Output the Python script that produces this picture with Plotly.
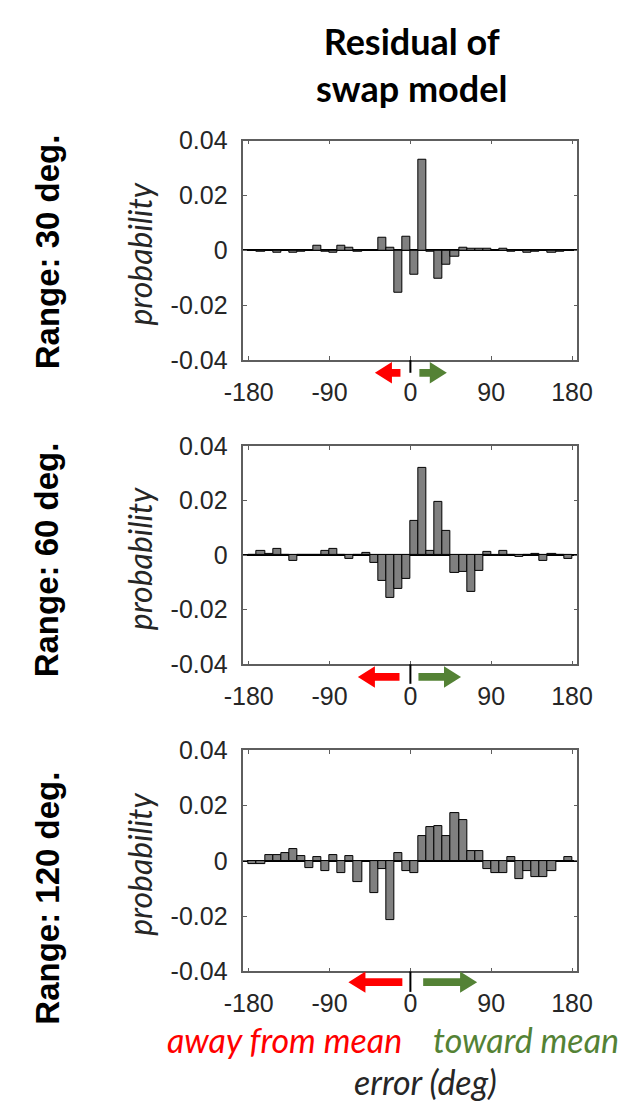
import plotly.graph_objects as go

# ---------------- data ----------------
bin_centers = [-175.5 + 9 * i for i in range(40)]  # 9-deg bins from -180 to 180
bin_width = 9

resid_30 = [0, -0.0005, 0, -0.001, 0, -0.0008, -0.0003, 0, 0.0018, -0.0003,
            -0.0008, 0.0017, 0.0008, -0.0005, 0, 0, 0.0046, 0.0009, -0.0156, 0.005,
            -0.0087, 0.0332, -0.0005, -0.0104, -0.0052, -0.0024, 0.0011, 0.0006, 0.0006, 0.0007,
            0, 0.0006, -0.0005, -0.0002, -0.001, -0.0005, 0, -0.001, -0.0005, 0]

resid_60 = [0, 0.0015, 0.0004, 0.0022, 0, -0.002, 0, 0, 0, 0.0015,
            0.0021, 0, -0.0014, 0, 0.0007, -0.003, -0.0095, -0.0157, -0.0122, -0.0086,
            0.0124, 0.0319, 0.0017, 0.0194, 0.009, -0.0067, -0.0063, -0.0136, -0.0059, 0.001,
            -0.0004, 0.0017, 0, -0.0008, 0, 0.0004, -0.002, 0.0004, 0, -0.0013]

resid_120 = [-0.0011, -0.0011, 0.002, 0.002, 0.0028, 0.0041, 0.0018, -0.0027, 0.0014, -0.0039,
             0.0019, -0.0044, 0.0016, -0.0077, -0.0003, -0.0117, -0.0031, -0.0215, 0.0026, -0.0038,
             -0.0045, 0.0088, 0.0121, 0.0127, 0.009, 0.0174, 0.0146, 0.0035, 0.0036, -0.003,
             -0.0043, -0.0043, 0.0012, -0.0066, -0.0037, -0.006, -0.006, -0.0036, 0, 0.0014]

series = [resid_30, resid_60, resid_120]
row_labels = ["Range: 30 deg.", "Range: 60 deg.", "Range: 120 deg."]
x_tick_vals = [-180, -90, 0, 90, 180]
x_tick_text = ["-180", "-90", "0", "90", "180"]
y_tick_vals = [-0.04, -0.02, 0, 0.02, 0.04]
y_tick_text = ["-0.04", "-0.02", "0", "0.02", "0.04"]
title_text = "Residual of<br>swap model"
y_title = "probability"
x_title = "error (deg)"
away_text = "away from mean"
toward_text = "toward mean"

# ---------------- layout helpers ----------------
W, H = 636, 1118
def px(x):
    return x / W
def py(y):
    return 1 - y / H

x_dom = [px(237), px(590)]
panel_px = [(130, 355), (443, 667), (755, 982)]  # top, bottom in pixels
label_centers = [244, 560, 907]
arrows = [  # red tip, red tail, green tail, green tip, y-centre, zero tick length
    (376, 403, 423, 452, 368, 13),
    (358, 402, 422, 467, 680, 20),
    (348, 405, 427, 484, 993, 21),
]

AX_COLOR = "#5e5e5e"
TXT = "#262626"
RED = "#ff0000"
GREEN = "#548235"

fig = go.Figure()
layout = dict(
    width=W, height=H, margin=dict(l=0, r=0, t=0, b=0),
    paper_bgcolor="white", plot_bgcolor="white",
    showlegend=False, bargap=0,
)

annotations = []
shapes = []

for i, vals in enumerate(series):
    n = "" if i == 0 else str(i + 1)
    fig.add_trace(go.Bar(
        x=bin_centers, y=vals, width=bin_width,
        marker=dict(color="#808080", line=dict(color="black", width=1)),
        xaxis="x" + n, yaxis="y" + n, hoverinfo="skip",
    ))
    top, bot = panel_px[i]
    layout["xaxis" + n] = dict(
        domain=x_dom, anchor="y" + n, range=[-186, 186],
        tickvals=x_tick_vals, ticktext=x_tick_text,
        ticks="inside", ticklen=4, tickcolor=AX_COLOR, tickwidth=1,
        showline=True, linecolor=AX_COLOR, linewidth=1.5, mirror="allticks",
        showgrid=False, zeroline=False,
        tickfont=dict(family="Liberation Sans, Arial", size=25, color=TXT),
        ticklabelstandoff=9, fixedrange=True,
    )
    layout["yaxis" + n] = dict(
        domain=[py(bot), py(top)], anchor="x" + n, range=[-0.04, 0.04],
        tickvals=y_tick_vals, ticktext=y_tick_text,
        ticks="inside", ticklen=4, tickcolor=AX_COLOR, tickwidth=1,
        showline=True, linecolor=AX_COLOR, linewidth=1.5, mirror="allticks",
        showgrid=False, zeroline=True, zerolinecolor="black", zerolinewidth=1.5,
        tickfont=dict(family="Liberation Sans, Arial", size=25, color=TXT),
        ticklabelstandoff=9, fixedrange=True,
    )
    annotations.append(dict(
        text=y_title, x=px(127), y=py((top + bot) / 2 + 4), xref="paper", yref="paper",
        textangle=-90, showarrow=False, xanchor="center", yanchor="middle",
        font=dict(family="Lato", size=32, color=TXT, style="italic"),
    ))
    annotations.append(dict(
        text="<b>" + row_labels[i] + "</b>", x=px(30), y=py(label_centers[i]),
        xref="paper", yref="paper", textangle=-90, showarrow=False,
        xanchor="center", yanchor="middle",
        font=dict(family="Liberation Sans, Arial", size=33, color="black"),
    ))
    rt, rtail, gtail, gt, yc, tl = arrows[i]
    hl, hh, sh = 18, 11, 4
    red_path = (f"M {px(rt)} {py(yc)} L {px(rt + hl)} {py(yc - hh)} L {px(rt + hl)} {py(yc - sh)} "
                f"L {px(rtail)} {py(yc - sh)} L {px(rtail)} {py(yc + sh)} L {px(rt + hl)} {py(yc + sh)} "
                f"L {px(rt + hl)} {py(yc + hh)} Z")
    green_path = (f"M {px(gt)} {py(yc)} L {px(gt - hl)} {py(yc - hh)} L {px(gt - hl)} {py(yc - sh)} "
                  f"L {px(gtail)} {py(yc - sh)} L {px(gtail)} {py(yc + sh)} L {px(gt - hl)} {py(yc + sh)} "
                  f"L {px(gt - hl)} {py(yc + hh)} Z")
    shapes.append(dict(type="path", path=red_path, xref="paper", yref="paper",
                       fillcolor=RED, line=dict(width=0)))
    shapes.append(dict(type="path", path=green_path, xref="paper", yref="paper",
                       fillcolor=GREEN, line=dict(width=0)))
    shapes.append(dict(type="line", xref="x" + n, yref="paper", x0=0, x1=0,
                       y0=py(bot), y1=py(bot + tl), line=dict(color="black", width=2)))

annotations.append(dict(
    text="<b>" + title_text + "</b>", x=px(415), y=py(52), xref="paper", yref="paper",
    showarrow=False, xanchor="center", yanchor="middle",
    font=dict(family="Lato", size=36, color="black"),
))
annotations.append(dict(
    text=away_text, x=px(281), y=py(1052), xref="paper", yref="paper",
    showarrow=False, xanchor="center", yanchor="middle",
    font=dict(family="Lato", size=34, color=RED, style="italic"),
))
annotations.append(dict(
    text=toward_text, x=px(536), y=py(1052), xref="paper", yref="paper",
    showarrow=False, xanchor="center", yanchor="middle",
    font=dict(family="Lato", size=34, color=GREEN, style="italic"),
))
annotations.append(dict(
    text=x_title, x=px(429), y=py(1095), xref="paper", yref="paper",
    showarrow=False, xanchor="center", yanchor="middle",
    font=dict(family="Lato", size=34, color=TXT, style="italic"),
))

layout["annotations"] = annotations
layout["shapes"] = shapes
fig.update_layout(**layout)
fig.write_html("out.html")
